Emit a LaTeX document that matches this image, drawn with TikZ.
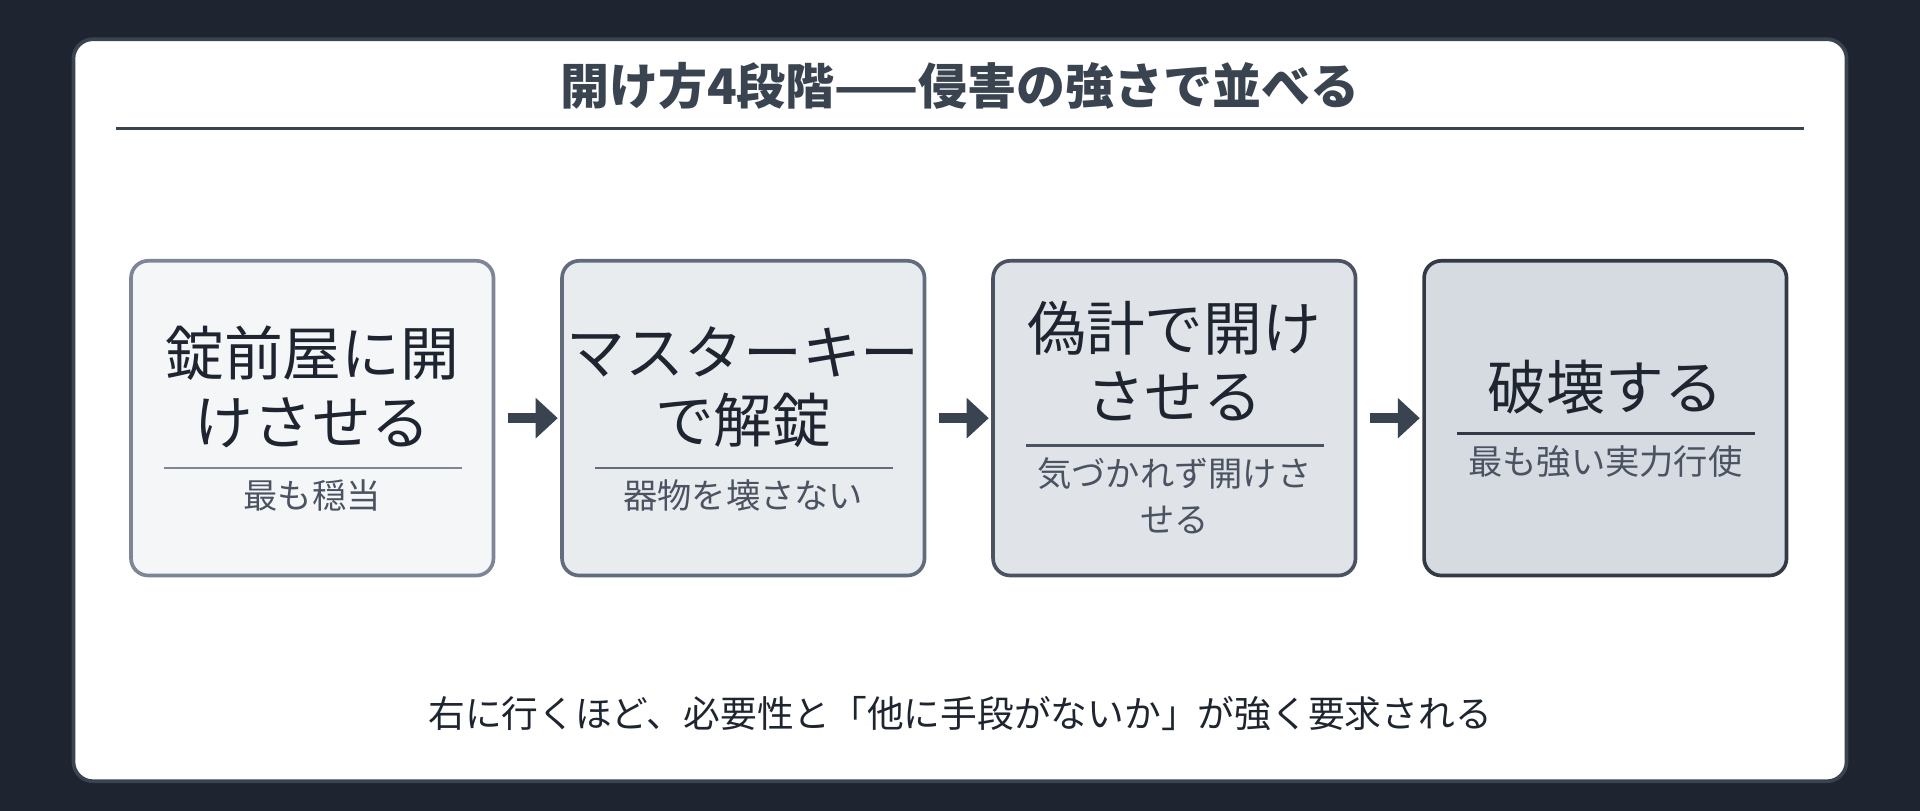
\documentclass[tikz,border=0pt]{standalone}
\usepackage{fontspec}
\setmainfont{Noto Sans CJK JP}
\usetikzlibrary{arrows.meta, positioning}
\definecolor{bgdark}{HTML}{1E2530}
\definecolor{inkgray}{HTML}{3A4350}
\definecolor{subgray}{HTML}{4B5363}
\definecolor{fillA}{HTML}{F4F6F8}
\definecolor{fillB}{HTML}{E9ECEF}
\definecolor{fillC}{HTML}{E0E3E8}
\definecolor{fillD}{HTML}{D6DAE1}
\definecolor{edgeA}{HTML}{7D8596}
\definecolor{edgeB}{HTML}{636C7C}
\definecolor{edgeC}{HTML}{4B5363}
\definecolor{edgeD}{HTML}{333A46}
\tikzset{stepbox/.style={rectangle, rounded corners=7pt, line width=1.5pt, minimum width=148pt, minimum height=128.5pt, inner sep=0pt},
maintext/.style={font=\fontsize{24}{28}\selectfont, text=bgdark, align=center},
subtext/.style={font=\fontsize{14}{19}\selectfont, text=subgray, align=center},
steparrow/.style={-{Triangle[length=9pt, width=16pt]}, line width=4pt, color=inkgray, shorten <=5pt, shorten >=1pt}}

\begin{document}
\begin{tikzpicture}[x=0.5pt, y=-0.5pt]
        % Background
        \fill[bgdark] (0, 0) rectangle (1568, 662);
        \filldraw[fill=white, draw=inkgray, line width=1.5pt, rounded corners=8pt] (60, 32) rectangle (1508, 638);
        % Title
        \node[font=\bfseries\fontsize{20}{24}\selectfont, text=inkgray] (title) at (784, 70) {開け方4段階——侵害の強さで並べる};
        \draw[inkgray, line width=1pt] (95, 105) -- (1473, 105);
        % Boxes
        \node[stepbox, fill=fillA, draw=edgeA] (lock) at (255, 341.5) {};
        \node[stepbox, fill=fillB, draw=edgeB] (master) at (607, 341.5) {};
        \node[stepbox, fill=fillC, draw=edgeC] (trick) at (959, 341.5) {};
        \node[stepbox, fill=fillD, draw=edgeD] (break) at (1311, 341.5) {};
        % Box texts
        \node[maintext] (lockmain) at (255, 316) {錠前屋に開\\けさせる};
        \draw[edgeA, line width=1pt] (134, 382) -- (377, 382);
        \node[subtext] (locksub) at (255, 405) {最も穏当};
        \node[maintext] (mastermain) at (607, 316) {マスターキー\\で解錠};
        \draw[edgeB, line width=1pt] (486, 382) -- (729, 382);
        \node[subtext] (mastersub) at (607, 405) {器物を壊さない};
        \node[maintext] (trickmain) at (959, 295) {偽計で開け\\させる};
        \draw[edgeC, line width=1pt] (838, 364) -- (1081, 364);
        \node[subtext] (tricksub) at (959, 405) {気づかれず開けさ\\せる};
        \node[maintext] (breakmain) at (1311, 316) {破壊する};
        \draw[edgeD, line width=1pt] (1190, 354) -- (1433, 354);
        \node[subtext] (breaksub) at (1311, 377) {最も強い実力行使};
        % Arrows
        \draw[steparrow] (lock) -- (master);
        \draw[steparrow] (master) -- (trick);
        \draw[steparrow] (trick) -- (break);
        % Footer
        \node[font=\fontsize{15}{18}\selectfont, text=bgdark] (footer) at (784, 583) {右に行くほど、必要性と「他に手段がないか」が強く要求される};
\end{tikzpicture}
\end{document}
